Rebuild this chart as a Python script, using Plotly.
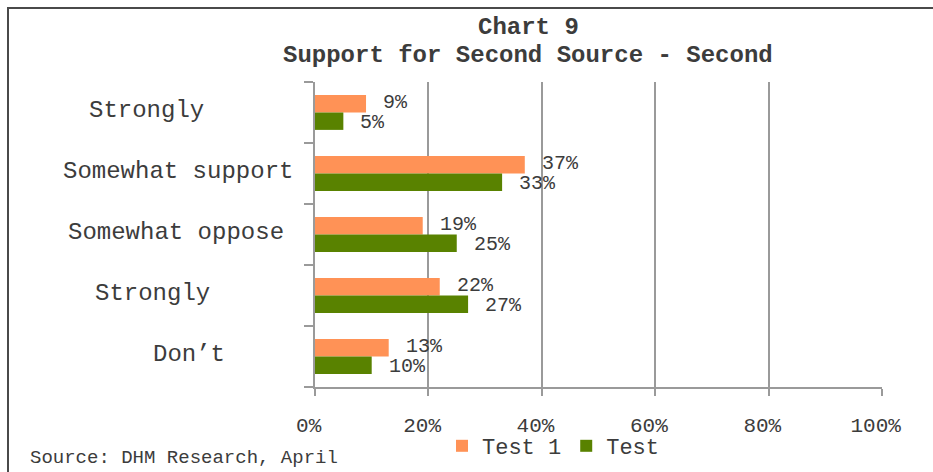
import plotly.graph_objects as go

# Survey responses (percent)
categories = ["Strongly", "Somewhat support", "Somewhat oppose", "Strongly", "Don’t"]
test1 = [9, 37, 19, 22, 13]
test2 = [5, 33, 25, 27, 10]
series_names = ["Test 1", "Test"]
x_ticks = [0, 20, 40, 60, 80, 100]
x_tick_labels = [f"{v}%\u00a0" for v in x_ticks]
title_lines = ["Chart 9", "Support for Second Source - Second"]

# Canvas geometry (pixels)
W, H = 933, 472
ML, MR, MT, MB = 315, 51, 82, 85
PW, PH = W - ML - MR, H - MT - MB


def px_x(p):
    return (p - ML) / PW


def px_y(p):
    return (H - MB - p) / PH


FONT = "Liberation Mono, Courier New, monospace"
ORANGE = "#FF9256"
GREEN = "#598200"
GRID = "#9a9a9a"
TEXT = "#3c3c3c"

pos = list(range(len(categories)))

fig = go.Figure()
fig.add_trace(go.Bar(y=pos, x=test1, name=series_names[0], orientation="h",
                     marker=dict(color=ORANGE, line=dict(width=0))))
fig.add_trace(go.Bar(y=pos, x=test2, name=series_names[1], orientation="h",
                     marker=dict(color=GREEN, line=dict(width=0))))

annotations = []
# value labels just past the end of each bar
for i, (a, b) in enumerate(zip(test1, test2)):
    annotations.append(dict(x=a, y=i, xref="x", yref="y", text=f"{a}%",
                            showarrow=False, xanchor="left", yanchor="middle",
                            xshift=16, yshift=10, borderpad=0,
                            font=dict(family=FONT, size=20, color=TEXT)))
    annotations.append(dict(x=b, y=i, xref="x", yref="y", text=f"{b}%",
                            showarrow=False, xanchor="left", yanchor="middle",
                            xshift=16, yshift=-10, borderpad=0,
                            font=dict(family=FONT, size=20, color=TEXT)))

# category names on the left
label_centers = [146, 178, 176, 152, 189]
for i, (lab, cx) in enumerate(zip(categories, label_centers)):
    annotations.append(dict(x=px_x(cx), y=i, xref="paper", yref="y", text=lab,
                            showarrow=False, xanchor="center", yanchor="middle",
                            yshift=2,
                            font=dict(family=FONT, size=24, color=TEXT)))

# two-line bold heading
for line, cy in zip(title_lines, [28, 56]):
    annotations.append(dict(x=px_x(528), y=px_y(cy), xref="paper", yref="paper",
                            text=f"<b>{line}</b>", showarrow=False,
                            xanchor="center", yanchor="middle",
                            font=dict(family=FONT, size=24, color=TEXT)))

# source note
annotations.append(dict(x=px_x(28), y=px_y(458), xref="paper", yref="paper",
                        text="Source: DHM Research, April", showarrow=False,
                        xanchor="left", yanchor="middle",
                        font=dict(family=FONT, size=19, color=TEXT)))

# outer frame
shapes = [dict(type="rect", xref="paper", yref="paper",
               x0=px_x(8), x1=px_x(W + 20), y0=px_y(8), y1=px_y(H + 20),
               line=dict(color="#4a4a4a", width=2), fillcolor="rgba(0,0,0,0)",
               layer="below")]

fig.update_layout(
    width=W, height=H,
    margin=dict(l=ML, r=MR, t=MT, b=MB, autoexpand=False),
    paper_bgcolor="white", plot_bgcolor="white",
    barmode="group", bargap=0.43, bargroupgap=0,
    xaxis=dict(range=[0, 100], tickvals=x_ticks, ticktext=x_tick_labels,
               showgrid=True, gridcolor=GRID, gridwidth=2,
               showline=True, linecolor=GRID, linewidth=2,
               ticks="outside", ticklen=7, tickwidth=2, tickcolor=GRID,
               zeroline=False, ticklabelstandoff=11, automargin=False,
               tickfont=dict(family=FONT, size=21, color=TEXT)),
    yaxis=dict(range=[len(categories) - 0.5, -0.5],
               tickvals=[i - 0.5 for i in range(len(categories) + 1)],
               showticklabels=False, showgrid=False, zeroline=False,
               showline=True, linecolor=GRID, linewidth=2, automargin=False,
               ticks="outside", ticklen=9, tickwidth=2, tickcolor=GRID),
    legend=dict(orientation="h", x=px_x(442), xanchor="left",
                y=px_y(425), yanchor="top", bgcolor="rgba(0,0,0,0)",
                font=dict(family=FONT, size=22, color=TEXT),
                itemwidth=30, traceorder="normal"),
    annotations=annotations,
    shapes=shapes,
    showlegend=True,
    hovermode=False,
)

fig.write_html("out.html")
